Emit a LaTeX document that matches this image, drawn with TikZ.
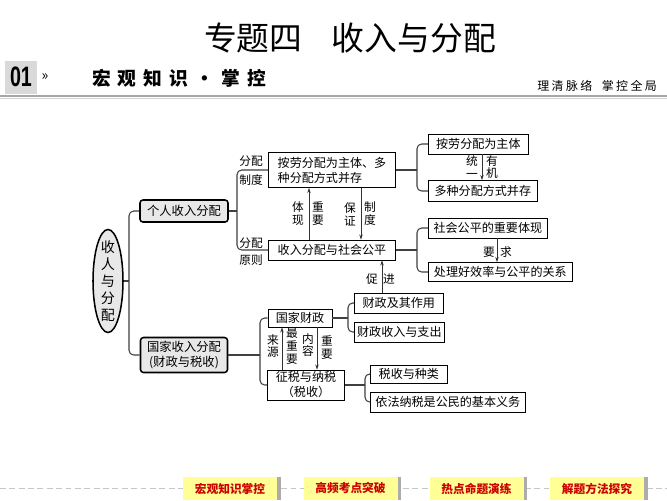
\documentclass[tikz,border=0pt]{standalone}
\usepackage{fontspec}
\setmainfont{Noto Sans CJK SC}
\newfontfamily\numfont{Liberation Sans}[FakeStretch=0.7]
\usetikzlibrary{shapes.geometric,arrows.meta}
\begin{document}
\begin{tikzpicture}[x=0.03cm, y=-0.03cm,
	box/.style={rectangle, draw=black, line width=0.6pt, fill=white, font=\fontsize{10.3}{12.8}\selectfont, inner sep=1pt, minimum height=0.6cm},
	topic/.style={rectangle, rounded corners=2.5pt, draw=black, line width=1.3pt, fill=gray!18, font=\fontsize{10.5}{13.5}\selectfont, align=center, inner sep=1pt},
	link/.style={draw=black!75, line width=0.9pt, rounded corners=4pt},
	arr/.style={draw=black!80, line width=0.6pt, -{Stealth[length=4.5pt, width=3pt]}},
	vlab/.style={font=\fontsize{10}{11}\selectfont, align=center, inner sep=0pt},
	btn/.style={rectangle, fill={rgb,255:red,255;green,255;blue,150}, text={rgb,255:red,204;green,0;blue,0}, font=\bfseries\fontsize{10}{12}\selectfont, minimum width=2.82cm, minimum height=0.69cm, inner sep=0pt}]
		\fill[white] (0,0) rectangle (667,500);
		\useasboundingbox (0,0) rectangle (667,500);
		\node[font=\fontsize{28}{30}\selectfont] (title) at (350,38) {专题四\hspace{0.9em}收入与分配};
		\node[fill=gray!30, minimum width=0.96cm, minimum height=0.99cm, inner sep=0pt, font=\numfont\bfseries\fontsize{24}{24}\selectfont] (num) at (21,77) {01};
		\node[font=\fontsize{12}{12}\selectfont] (guil) at (45,77) {»};
		\node[anchor=west, font=\bfseries\fontsize{16}{16}\selectfont\addfontfeature{LetterSpace=38}] (sect) at (88,78) {宏观知识・掌控};
		\node[anchor=east, font=\fontsize{10.2}{11}\selectfont\addfontfeature{LetterSpace=20}] (motto) at (661,86) {理清脉络\hspace{0.8em}掌控全局};
		\draw[gray!70, line width=1.8pt] (0,96) -- (667,96);
		\draw[gray!35, line width=1pt] (0,98.5) -- (667,98.5);
		\node[ellipse, draw=black, line width=1.3pt, fill=gray!18, minimum width=0.9cm, minimum height=3.09cm, inner sep=0pt, label={[vlab, font=\fontsize{12}{14.5}\selectfont]center:收\\人\\与\\分\\配}] (root) at (108,281) {};
		\node[topic, minimum width=2.64cm, minimum height=0.66cm] (personal) at (184,211) {个人收入分配};
		\node[topic, minimum width=2.61cm, minimum height=1.05cm] (state) at (184,355) {国家收入分配\\(财政与税收)};
		\node[box, align=left, minimum width=3.81cm, minimum height=1.05cm] (system) at (332,170) {按劳分配为主体、多\\种分配方式并存};
		\node[box, minimum width=3.81cm] (fairness) at (332,250) {收入分配与社会公平};
		\node[box, anchor=west, minimum width=3.0cm] (labour) at (428,144) {按劳分配为主体};
		\node[box, anchor=west, minimum width=3.27cm, minimum height=0.63cm] (mixed) at (428,191) {多种分配方式并存};
		\node[box, anchor=west, minimum width=3.57cm] (embody) at (428,228) {社会公平的重要体现};
		\node[box, anchor=west, minimum width=4.32cm, minimum height=0.57cm] (balance) at (428,272) {处理好效率与公平的关系};
		\node[box, minimum width=1.92cm, minimum height=0.54cm] (finance) at (300,318) {国家财政};
		\node[box, align=center, minimum width=2.31cm, minimum height=0.9cm] (tax) at (306,385) {征税与纳税\\（税收）};
		\node[box, anchor=west, minimum width=2.67cm] (role) at (354,303) {财政及其作用};
		\node[box, anchor=west, minimum width=2.7cm] (budget) at (354,332) {财政收入与支出};
		\node[box, anchor=west, minimum width=2.31cm, minimum height=0.54cm] (kinds) at (370,374) {税收与种类};
		\node[box, anchor=west, minimum width=4.65cm] (duty) at (370,402) {依法纳税是公民的基本义务};
		\node[vlab] (fenpeia) at (251,161) {分配};
		\node[vlab] (zhidua) at (251,180) {制度};
		\node[vlab] (fenpeib) at (251,243) {分配};
		\node[vlab] (yuanze) at (251,260) {原则};
		\node[vlab] (tixian) at (298,214) {体\\现};
		\node[vlab] (zhongyaoa) at (318,214) {重\\要};
		\node[vlab] (baozheng) at (350,214) {保\\证};
		\node[vlab] (zhidub) at (370,214) {制\\度};
		\node[vlab] (cu) at (372,279) {促};
		\node[vlab] (jin) at (389,279) {进};
		\node[vlab] (tongyi) at (472,167) {统\\一};
		\node[vlab] (youji) at (492,167) {有\\机};
		\node[vlab] (yao) at (489,252) {要};
		\node[vlab] (qiu) at (506,252) {求};
		\node[vlab] (laiyuan) at (273,346) {来\\源};
		\node[vlab] (zuizhongyao) at (292,346) {最\\重\\要};
		\node[vlab] (neirong) at (308,345) {内\\容};
		\node[vlab] (zhongyaob) at (327,348) {重\\要};
		\coordinate (rootfork) at (129,281);
		\coordinate (personalfork) at (237,211);
		\coordinate (systemfork) at (417,170);
		\coordinate (fairfork) at (417,250);
		\coordinate (statefork) at (260,355);
		\coordinate (financefork) at (348,318);
		\coordinate (taxfork) at (365,385);
		\coordinate (upa) at (309,0);
		\coordinate (downa) at (361,0);
		\coordinate (promote) at (382,0);
		\coordinate (organic) at (482,0);
		\coordinate (require) at (497,0);
		\coordinate (source) at (282,0);
		\coordinate (content) at (317,0);
		\draw[link] (root.east) -- (rootfork);
		\draw[link] (personal.west) -| (rootfork) |- (state.west);
		\draw[link] (personal.east) -- (personalfork);
		\draw[link] (system.west) -| (personalfork) |- (fairness.west);
		\draw[link] (system.east) -- (systemfork);
		\draw[link] (labour.west) -| (systemfork) |- (mixed.west);
		\draw[link] (fairness.east) -- (fairfork);
		\draw[link] (embody.west) -| (fairfork) |- (balance.west);
		\draw[link] (state.east) -- (statefork);
		\draw[link] (finance.west) -| (statefork) |- (tax.west);
		\draw[link] (finance.east) -- (financefork);
		\draw[link] (role.west) -| (financefork) |- (budget.west);
		\draw[link] (tax.east) -- (taxfork);
		\draw[link] (kinds.west) -| (taxfork) |- (duty.west);
		\draw[arr] (fairness.north -| upa) -- (system.south -| upa);
		\draw[arr] (system.south -| downa) -- (fairness.north -| downa);
		\draw[arr] (role.north -| promote) -- (fairness.south -| promote);
		\draw[arr] (labour.south -| organic) -- (mixed.north -| organic);
		\draw[arr] (embody.south -| require) -- (balance.north -| require);
		\draw[arr] (tax.north -| source) -- (finance.south -| source);
		\draw[arr] (finance.south -| content) -- (tax.north -| content);
		\draw[gray!45, line width=0.6pt, dash pattern=on 5pt off 3pt] (0,488) -- (667,488);
		\node[btn] (btna) at (230,488.5) {宏观知识掌控};
		\node[btn] (btnb) at (350.5,488.5) {高频考点突破};
		\node[btn] (btnc) at (476.5,488.5) {热点命题演练};
		\node[btn] (btnd) at (597,488.5) {解题方法探究};
		\foreach \b in {btna,btnb,btnc,btnd}
			\fill[gray!65] (\b.north east) rectangle ([xshift=2.8pt]\b.south east);
	\end{tikzpicture}
\end{document}
